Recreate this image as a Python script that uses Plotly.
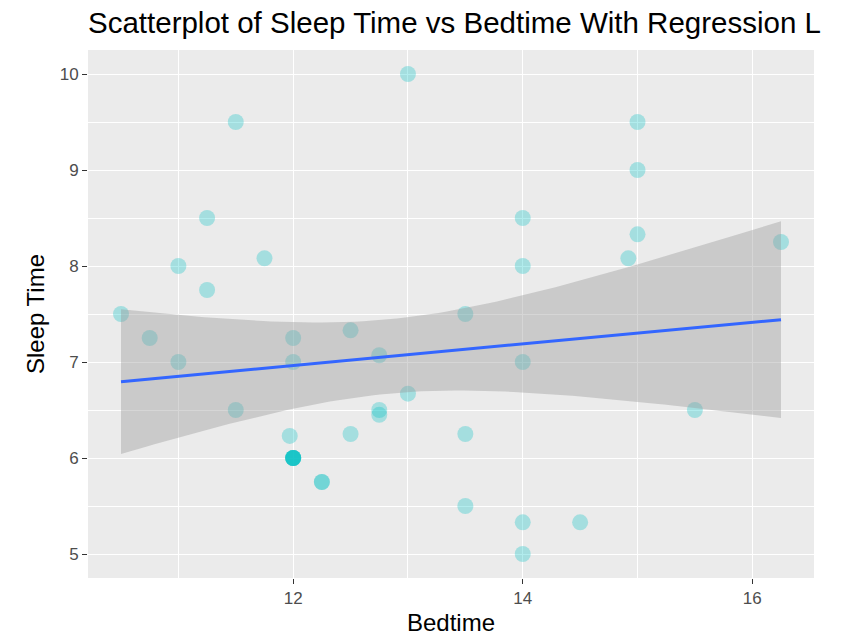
import numpy as np
import plotly.graph_objects as go

# Data (Bedtime in hours, Sleep Time in hours)
bedtime = [10.5, 10.75, 11.0, 11.0, 11.25, 11.25, 11.5, 11.5, 11.75,
           12.0, 12.0, 11.97, 12.0, 12.0, 12.0, 12.0, 12.0, 12.0, 12.25, 12.25,
           12.5, 12.5, 12.75, 12.75, 12.75, 13.0, 13.0,
           13.5, 13.5, 13.5, 14.0, 14.0, 14.0, 14.0, 14.0, 14.5,
           14.92, 15.0, 15.0, 15.0, 15.5, 16.25]
sleep_time = [7.5, 7.25, 8.0, 7.0, 8.5, 7.75, 9.5, 6.5, 8.08,
              7.25, 7.0, 6.23, 6.0, 6.0, 6.0, 6.0, 6.0, 6.0, 5.75, 5.75,
              7.33, 6.25, 7.07, 6.5, 6.45, 10.0, 6.67,
              7.5, 6.25, 5.5, 8.5, 8.0, 7.0, 5.33, 5.0, 5.33,
              8.08, 9.5, 9.0, 8.33, 6.5, 8.25]

x_ticks = [12, 14, 16]
y_ticks = [5, 6, 7, 8, 9, 10]
title_text = "Scatterplot of Sleep Time vs Bedtime With Regression L"

x = np.array(bedtime)
y = np.array(sleep_time)
n = len(x)
slope, intercept = np.polyfit(x, y, 1)
resid = y - (intercept + slope * x)
s = np.sqrt(np.sum(resid ** 2) / (n - 2))
xbar = x.mean()
sxx = np.sum((x - xbar) ** 2)
t_crit = 2.021  # 95% two-sided, df ~ 40
xs = np.linspace(x.min(), x.max(), 80)
ys = intercept + slope * xs
se = s * np.sqrt(1.0 / n + (xs - xbar) ** 2 / sxx)
upper = ys + t_crit * se
lower = ys - t_crit * se

FONT = "Liberation Sans, Arial, Helvetica"

fig = go.Figure()
fig.add_trace(go.Scatter(
    x=bedtime, y=sleep_time, mode="markers",
    marker=dict(size=16, color="rgba(0,191,196,0.3)", line=dict(width=0)),
    showlegend=False, hoverinfo="x+y"))
fig.add_trace(go.Scatter(
    x=np.concatenate([xs, xs[::-1]]), y=np.concatenate([upper, lower[::-1]]),
    fill="toself", fillcolor="rgba(153,153,153,0.4)", line=dict(width=0),
    mode="lines", showlegend=False, hoverinfo="skip"))
fig.add_trace(go.Scatter(
    x=xs, y=ys, mode="lines", line=dict(color="#3366FF", width=3),
    showlegend=False))

axis_common = dict(
    showgrid=True, gridcolor="white", gridwidth=1.3, zeroline=False,
    showline=False, ticks="outside", ticklen=5, tickwidth=1.2, tickcolor="#333333",
    tickfont=dict(family=FONT, size=17, color="#4D4D4D"), automargin=False,
)
fig.update_xaxes(
    range=[10.2125, 16.5375], tickvals=x_ticks,
    minor=dict(tickvals=[11, 13, 15], showgrid=True, gridcolor="white", gridwidth=0.6, ticks=""),
    title=dict(text="Bedtime", font=dict(family=FONT, size=24, color="#000000"), standoff=6),
    **axis_common)
fig.update_yaxes(
    range=[4.75, 10.25], tickvals=y_ticks,
    minor=dict(tickvals=[5.5, 6.5, 7.5, 8.5, 9.5], showgrid=True, gridcolor="white", gridwidth=0.6, ticks=""),
    title=dict(text="Sleep Time", font=dict(family=FONT, size=24, color="#000000"), standoff=8),
    **axis_common)

fig.update_layout(
    width=851, height=636,
    margin=dict(l=88, r=37, t=50, b=58),
    plot_bgcolor="#EBEBEB", paper_bgcolor="white",
    title=dict(text=title_text,
               x=88 / 851, xanchor="left", y=1 - 23 / 636, yanchor="middle",
               font=dict(family=FONT, size=29.5, color="#000000")),
)

# remove the page's default 8px body margin so the figure fills the window
fig.write_html("out.html", config={"displayModeBar": False},
               post_script="document.body.style.margin='0';")
